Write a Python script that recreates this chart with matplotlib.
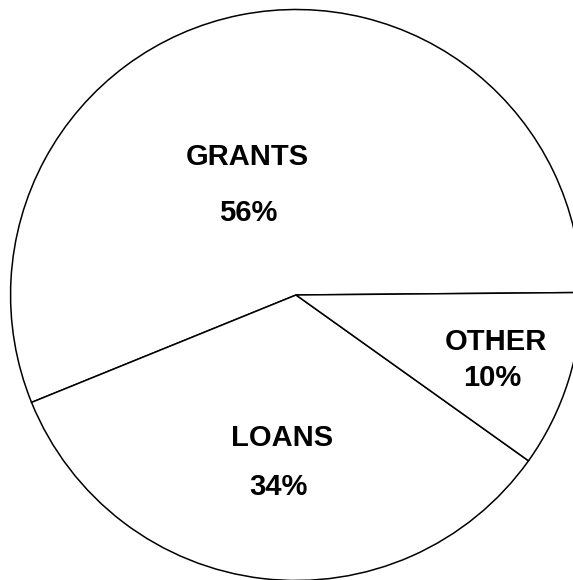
import matplotlib
matplotlib.use('Agg')
from matplotlib import pyplot as plt

labels = ['GRANTS', 'LOANS', 'OTHER']
shares = [56, 34, 10]

# where the text sits in each slice (data coords, pie radius = 1)
label_pos = [(-0.170, 0.483), (-0.050, -0.501), (0.700, -0.165)]
pct_pos = [(-0.168, 0.287), (-0.063, -0.672), (0.687, -0.291)]

fig = plt.figure(figsize=(5.73, 5.80), dpi=100)
ax = fig.add_axes([0, 0, 1, 1])

ax.pie(shares, startangle=0.5, counterclock=True,
       colors=['white'] * len(shares),
       wedgeprops={'edgecolor': 'black', 'linewidth': 1.1})

for name, val, p1, p2 in zip(labels, shares, label_pos, pct_pos):
    ax.text(p1[0], p1[1], name, ha='center', va='center', fontweight='bold',
            fontsize=21, family='Liberation Sans', color='black')
    ax.text(p2[0], p2[1], f'{val}%', ha='center', va='center', fontweight='bold',
            fontsize=21, family='Liberation Sans', color='black')

ax.set_xlim(-1.037, 0.970)
ax.set_ylim(-0.998, 1.033)
ax.set_aspect('equal')
ax.axis('off')

plt.savefig('out.png', dpi=100, facecolor='white')
